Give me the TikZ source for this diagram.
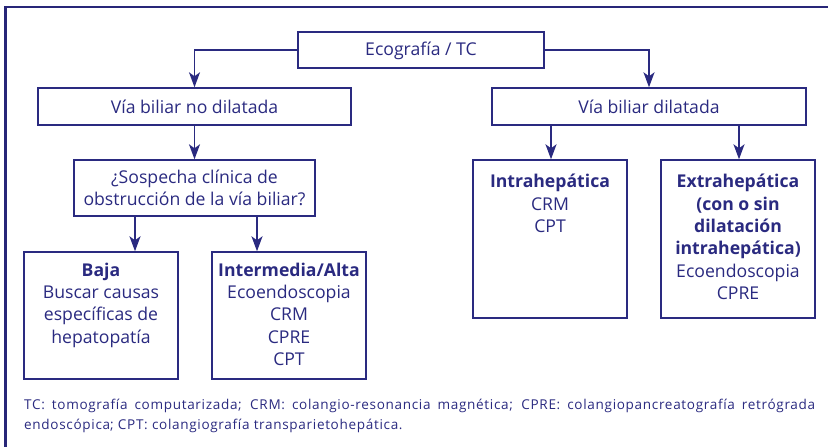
\documentclass[tikz,border=0pt]{standalone}
\usepackage{fontspec}
\setmainfont{Open Sans}
\usetikzlibrary{arrows.meta}
\definecolor{navy}{RGB}{42,42,128}
\definecolor{framec}{RGB}{40,38,120}
\begin{document}
\begin{tikzpicture}[x=1bp,y=-1bp,
  every node/.style={text=navy},
  txt/.style={font=\fontsize{17.7}{22.5}\selectfont, align=center, inner sep=0},
  box/.style={draw=navy, line width=1.4bp, rectangle, inner sep=0},
  arr/.style={draw=navy, line width=1.8bp, -{Stealth[length=15bp,width=11bp,inset=4bp]}}]
\useasboundingbox (0,0) rectangle (828,447);
\draw[framec, line width=2.4bp] (5.5,447) -- (5.5,7.2) -- (828,7.2);
% boxes
\node[box, txt, minimum width=246bp, minimum height=36bp, text depth=0.5ex] (eco) at (421,50) {Ecografía / TC};
\node[box, txt, minimum width=313bp, minimum height=37bp] (nod) at (194.5,106.5) {Vía biliar no dilatada};
\node[box, txt, minimum width=314bp, minimum height=37bp] (dil) at (649,106.5) {Vía biliar dilatada};
\node[box, txt, minimum width=241bp, minimum height=56bp] (sos) at (194.5,188) {¿Sospecha clínica de\\obstrucción de la vía biliar?};
\node[box, minimum width=154bp, minimum height=158bp] (intra) at (550,239) {};
\node[box, minimum width=154bp, minimum height=158bp] (extra) at (738,239) {};
\node[box, minimum width=154bp, minimum height=127bp] (baja) at (101,315.5) {};
\node[box, minimum width=154bp, minimum height=127bp] (inter) at (289,315.5) {};
% texts
\node[txt, anchor=north] (intraT) at (550,174) {\textbf{Intrahepática}\\CRM\\CPT};
\node[txt, anchor=north] (extraT) at (738,174) {\textbf{Extrahepática}\\\textbf{(con o sin}\\\textbf{dilatación}\\\textbf{intrahepática)}\\Ecoendoscopia\\CPRE};
\node[txt, anchor=north] (bajaT) at (101,262.5) {\textbf{Baja}\\Buscar causas\\específicas de\\hepatopatía};
\node[txt, anchor=north] (interT) at (289,262.5) {\textbf{Intermedia/Alta}\\Ecoendoscopia\\CRM\\CPRE\\CPT};
% arrows
\draw[arr] (eco.west) -| (nod.north);
\draw[arr] (eco.east) -| (dil.north);
\draw[arr] (nod.south) -- (sos.north);
\coordinate (a1) at (135,216);
\coordinate (a2) at (257,216);
\coordinate (a3) at (551,125);
\coordinate (a4) at (739,125);
\draw[arr] (a1) -- (a1 |- baja.north);
\draw[arr] (a2) -- (a2 |- inter.north);
\draw[arr] (a3) -- (a3 |- intra.north);
\draw[arr] (a4) -- (a4 |- extra.north);
% footnote
\node[anchor=north west, inner sep=0, text width=791bp, align=justify, font=\fontsize{13.6}{19.5}\selectfont\addfontfeatures{LetterSpace=5}] (foot) at (24,399)
{TC: tomografía computarizada; CRM: colangio-resonancia magnética; CPRE: colangiopancreatografía retrógrada \mbox{endoscópica}; CPT: colangiografía transparietohepática.};
\end{tikzpicture}
\end{document}
